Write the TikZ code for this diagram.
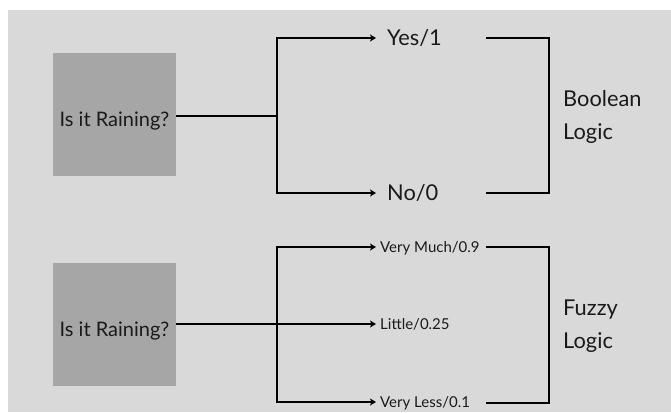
\documentclass[tikz,border=0pt]{standalone}
\usepackage{fontspec}
\setmainfont{Lato}
\usetikzlibrary{arrows.meta}
\definecolor{bg}{HTML}{D9D9D9}
\definecolor{boxgray}{HTML}{A6A6A6}
\definecolor{ink}{HTML}{1A1A1A}
\begin{document}
\begin{tikzpicture}[x=1pt,y=-1pt,
  conn/.style={line width=2pt, draw=black, line join=miter},
  arr/.style={conn, -{Stealth[length=6pt,width=7pt,inset=1.5pt]}},
  qbox/.style={fill=boxgray, draw=none, minimum width=123pt, minimum height=123pt, inner sep=0pt, text=ink, font=\fontsize{20}{24}\selectfont, text height=24.7pt, text depth=0pt},
  biglab/.style={anchor=west, inner xsep=11pt, inner ysep=0pt, text=ink, font=\fontsize{21.8}{26}\selectfont, text height=15.7pt, text depth=0pt},
  smalllab/.style={anchor=west, inner xsep=4pt, inner ysep=0pt, text=ink, font=\fontsize{15}{18}\selectfont, text height=10.8pt, text depth=0pt},
  sidelab/.style={anchor=west, inner sep=0pt, text=ink, font=\fontsize{21.8}{26}\selectfont, text height=15.7pt, text depth=0pt}
]
\useasboundingbox (0,0) rectangle (671,412);
\fill[white] (0,0) rectangle (671,412);
\fill[bg] (8,10) rectangle (671,412);

% Boolean logic
\node[qbox] (q1) at (114.5,114.5) {Is it Raining?};
\coordinate (j1) at (277,116);
\node[biglab] (yes) at (376,38) {Yes/1};
\node[biglab] (no) at (376,193) {No/0};
\draw[conn] (q1.east |- j1) -- (j1);
\draw[arr] (j1) |- (yes.west);
\draw[arr] (j1) |- (no.west);
\coordinate (b1t) at (486,38);
\coordinate (b1r) at (549,38);
\coordinate (b1b) at (486,193);
\draw[conn] (b1t) -- (b1r) |- (b1b);
\node[sidelab] (bool) at (563,99) {Boolean};
\node[sidelab] (logic1) at (563,132) {Logic};

% Fuzzy logic
\node[qbox] (q2) at (114.5,324.5) {Is it Raining?};
\coordinate (j2) at (277,324);
\node[smalllab] (much) at (376,247) {Very Much/0.9};
\node[smalllab] (little) at (376,324) {Little/0.25};
\node[smalllab] (less) at (376,402) {Very Less/0.1};
\draw[arr] (q2.east |- j2) -- (little.west);
\draw[arr] (j2) |- (much.west);
\draw[arr] (j2) |- (less.west);
\coordinate (b2t) at (486,247);
\coordinate (b2r) at (549,247);
\coordinate (b2b) at (486,403);
\draw[conn] (b2t) -- (b2r) |- (b2b);
\node[sidelab] (fuzzy) at (563,308) {Fuzzy};
\node[sidelab] (logic2) at (563,341) {Logic};
\end{tikzpicture}
\end{document}
